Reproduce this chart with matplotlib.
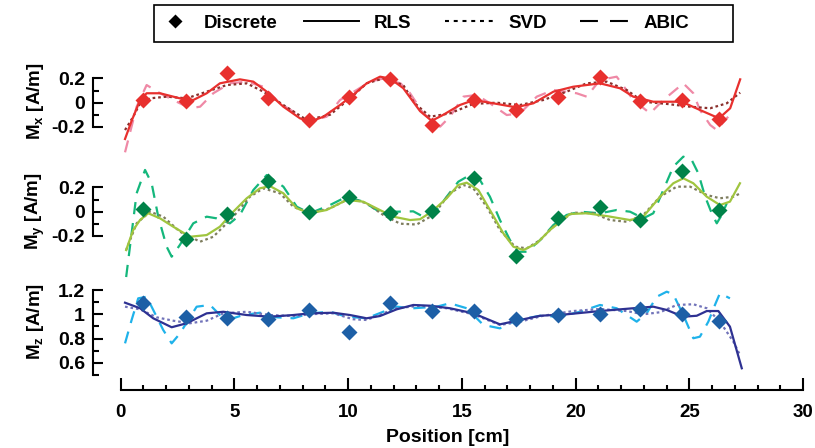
import matplotlib
matplotlib.use('Agg')
import matplotlib.pyplot as plt
from matplotlib.lines import Line2D
from matplotlib.patches import Rectangle
from matplotlib.legend_handler import HandlerLine2D
from matplotlib.ticker import FixedLocator
import matplotlib.transforms as mtransforms

# ---------------- data ----------------
x_disc = [0.97, 2.86, 4.66, 6.46, 8.29, 10.04, 11.84, 13.67, 15.53, 17.37, 19.22, 21.07, 22.83, 24.67, 26.30]
mx_disc = [0.022, 0.014, 0.243, 0.036, -0.143, 0.045, 0.196, -0.184, 0.022, -0.06, 0.05, 0.215, 0.017, 0.022, -0.137]
my_disc = [0.02, -0.228, -0.02, 0.254, -0.005, 0.119, -0.013, 0.006, 0.281, -0.366, -0.05, 0.036, -0.069, 0.339, 0.014]
mz_disc = [1.091, 0.975, 0.967, 0.959, 1.036, 0.856, 1.096, 1.027, 1.027, 0.961, 0.994, 1.0, 1.044, 1.002, 0.945]

mx_rls_x = [0.19, 0.48, 0.85, 1.14, 1.73, 2.6, 3.19, 3.78, 4.36, 5.24, 5.83, 6.42, 7.15, 7.88, 8.32, 8.91, 9.64,
            10.22, 10.81, 11.4, 11.84, 12.42, 13.16, 13.67, 14.18, 14.91, 15.53, 16.38, 17.37, 18.14, 19.02, 19.89,
            21.07, 21.95, 22.53, 23.41, 24.66, 25.46, 26.3, 26.79, 27.23]
mx_rls_y = [-0.3, -0.15, 0.02, 0.078, 0.078, 0.036, 0.022, 0.078, 0.16, 0.193, 0.174, 0.091, -0.033, -0.129, -0.157,
            -0.116, -0.019, 0.064, 0.16, 0.215, 0.2, 0.12, -0.07, -0.15, -0.10, -0.019, 0.022, -0.005, -0.038, -0.005,
            0.091, 0.132, 0.16, 0.119, 0.05, 0.008, 0.008, -0.06, -0.129, -0.046, 0.193]

mx_svd_x = [0.19, 0.55, 0.85, 1.29, 2.02, 2.9, 3.78, 4.66, 5.54, 6.27, 7.15, 8.18, 9.2, 10.08, 10.81, 11.54, 12.42,
            12.9, 13.6, 14.47, 15.5, 16.53, 17.55, 18.57, 19.6, 20.48, 21.36, 22.24, 22.97, 24.0, 25.03, 25.91,
            26.64, 27.23]
mx_svd_y = [-0.226, -0.116, -0.005, 0.036, 0.05, 0.036, 0.091, 0.146, 0.16, 0.091, -0.019, -0.143, -0.10, 0.036,
            0.16, 0.2, 0.146, 0.0, -0.116, -0.088, -0.01, 0.0, -0.019, 0.022, 0.091, 0.16, 0.174, 0.105, 0.008,
            -0.01, -0.033, -0.046, -0.005, 0.083]

mx_abic_x = [0.19, 0.7, 1.14, 1.73, 2.31, 3.05, 3.49, 4.07, 4.8, 5.54, 6.27, 7.0, 7.59, 8.18, 9.05, 9.64, 10.37,
             10.96, 11.54, 12.3, 12.72, 13.3, 14.04, 14.47, 15.06, 15.65, 16.23, 16.97, 17.55, 18.29, 19.02, 20.04,
             20.48, 21.07, 21.8, 22.02, 22.53, 23.27, 23.85, 24.73, 25.17, 25.46, 25.91, 26.2, 26.7]
mx_abic_y = [-0.41, -0.033, 0.146, 0.078, 0.022, -0.046, -0.033, 0.078, 0.16, 0.174, 0.132, -0.005, -0.074, -0.157,
             -0.116, 0.022, 0.105, 0.174, 0.2, 0.16, 0.078, -0.088, -0.198, -0.116, 0.05, 0.064, -0.005, -0.102,
             -0.088, 0.05, 0.105, 0.078, 0.05, 0.188, 0.215, 0.16, 0.022, -0.088, 0.022, 0.16, 0.078, -0.06, -0.184,
             -0.226, -0.116]

my_rls_x = [0.24, 0.55, 0.85, 1.21, 1.73, 2.31, 3.05, 3.78, 4.36, 4.95, 5.54, 6.12, 6.56, 7.15, 7.74, 8.32, 9.05,
            9.93, 10.66, 11.39, 11.98, 12.72, 13.16, 13.67, 14.33, 14.84, 15.21, 15.72, 16.23, 16.82, 17.26, 17.7,
            18.29, 18.87, 19.75, 20.48, 21.36, 22.39, 22.97, 23.71, 24.29, 24.73, 25.17, 25.76, 26.34, 26.78, 27.22]
my_rls_y = [-0.317, -0.151, -0.069, -0.013, -0.055, -0.124, -0.207, -0.193, -0.124, 0.0, 0.111, 0.193, 0.212, 0.152,
            0.028, -0.013, 0.014, 0.097, 0.083, 0.014, -0.041, -0.069, -0.062, 0.0, 0.111, 0.221, 0.24, 0.179, 0.014,
            -0.179, -0.289, -0.317, -0.261, -0.151, -0.019, -0.013, -0.036, -0.069, -0.041, 0.124, 0.235, 0.276,
            0.235, 0.124, 0.055, 0.083, 0.235]

my_svd_x = [0.24, 0.7, 1.29, 1.87, 2.6, 3.49, 4.07, 4.95, 5.68, 6.27, 7.0, 7.59, 8.32, 9.2, 10.08, 10.81, 11.54,
            12.28, 13.01, 13.74, 14.47, 15.06, 15.5, 16.09, 16.67, 17.33, 17.85, 18.44, 19.16, 19.89, 20.77, 21.51,
            22.24, 22.97, 23.71, 24.44, 25.03, 25.76, 26.34, 26.93, 27.22]
my_svd_y = [-0.317, -0.096, 0.0, -0.041, -0.165, -0.248, -0.207, -0.041, 0.124, 0.193, 0.152, 0.041, -0.013, 0.028,
            0.111, 0.069, -0.027, -0.099, -0.106, -0.027, 0.152, 0.221, 0.193, 0.041, -0.151, -0.289, -0.303, -0.234,
            -0.096, -0.008, -0.013, -0.069, -0.083, -0.027, 0.124, 0.207, 0.207, 0.138, 0.111, 0.124, 0.15]

my_abic_x = [0.24, 0.7, 1.07, 1.36, 1.65, 2.02, 2.24, 2.6, 3.19, 3.78, 4.22, 4.8, 5.24, 5.83, 6.42, 7.15, 7.74,
             8.32, 9.2, 9.93, 10.66, 11.25, 12.13, 12.86, 13.3, 13.74, 14.33, 14.84, 15.35, 15.79, 16.23, 16.67,
             17.11, 17.47, 17.85, 18.44, 19.02, 19.6, 20.19, 21.07, 21.8, 22.39, 22.97, 23.41, 23.85, 24.29, 24.73,
             25.1, 25.39, 25.69, 25.98, 26.2, 26.42, 26.64]
my_abic_y = [-0.54, 0.152, 0.345, 0.235, -0.041, -0.289, -0.372, -0.275, -0.096, -0.041, -0.055, -0.096, -0.027,
             0.179, 0.303, 0.207, 0.041, -0.013, 0.055, 0.124, 0.083, 0.014, 0.0, 0.003, -0.041, -0.027, 0.124, 0.248,
             0.303, 0.262, 0.124, -0.069, -0.234, -0.331, -0.331, -0.234, -0.11, -0.027, 0.0, -0.013, 0.014, 0.0,
             -0.055, -0.013, 0.179, 0.372, 0.455, 0.427, 0.317, 0.124, -0.013, -0.096, -0.027, 0.069]

mz_rls_x = [0.19, 0.85, 1.43, 2.24, 2.9, 3.78, 4.51, 5.54, 6.56, 7.59, 8.32, 9.35, 10.08, 10.81, 11.4, 12.13, 12.86,
            13.6, 14.47, 15.5, 16.67, 17.55, 18.44, 19.6, 21.07, 22.53, 23.41, 24.0, 24.73, 25.32, 25.76, 26.27,
            26.78, 27.3]
mz_rls_y = [1.096, 1.05, 0.967, 0.893, 0.926, 1.008, 1.021, 0.994, 0.98, 0.994, 1.008, 1.013, 0.994, 0.967, 0.986,
            1.041, 1.077, 1.071, 1.05, 1.008, 0.917, 0.953, 0.988, 1.0, 1.027, 1.05, 1.063, 1.036, 0.98, 0.988,
            1.027, 1.027, 0.898, 0.554]

mz_svd_x = [0.19, 0.85, 1.58, 2.31, 3.05, 3.78, 4.51, 5.54, 6.56, 7.59, 8.47, 9.35, 10.22, 10.81, 11.54, 12.13,
            13.16, 14.33, 15.5, 16.67, 17.55, 18.57, 19.89, 21.07, 22.24, 22.97, 23.71, 24.44, 25.17, 25.76, 26.34,
            26.93, 27.22]
mz_svd_y = [1.063, 1.041, 0.975, 0.947, 0.926, 0.947, 1.008, 1.021, 0.994, 0.986, 1.002, 1.008, 0.959, 0.953, 1.008,
            1.05, 1.071, 1.05, 1.0, 0.912, 0.939, 0.988, 1.027, 1.044, 1.027, 1.0, 1.017, 1.077, 1.083, 1.05, 0.939,
            0.774, 0.664]

mz_abic_x = [0.19, 0.48, 0.77, 1.14, 1.43, 1.87, 2.24, 2.61, 2.97, 3.34, 3.93, 4.36, 4.8, 5.39, 6.12, 6.86, 7.59,
             8.32, 9.2, 9.93, 10.81, 11.54, 12.13, 12.86, 13.89, 14.47, 15.21, 15.94, 16.67, 17.41, 18.44, 19.3,
             20.18, 21.07, 21.8, 22.24, 22.68, 23.12, 23.56, 24.0, 24.29, 24.73, 25.17, 25.46, 25.83, 26.12, 26.34,
             26.78]
mz_abic_y = [0.76, 0.953, 1.132, 1.145, 1.036, 0.87, 0.76, 0.843, 0.953, 1.063, 1.077, 0.994, 0.959, 0.994, 1.013,
             0.975, 0.967, 1.008, 1.021, 0.98, 0.967, 1.021, 1.063, 1.05, 1.063, 1.091, 1.05, 0.912, 0.884, 0.953,
             0.988, 0.98, 1.021, 1.077, 1.05, 0.994, 0.939, 1.008, 1.145, 1.187, 1.165, 0.994, 0.802, 0.815, 0.939,
             1.077, 1.174, 1.132]

legend_labels = ['Discrete', 'RLS', 'SVD', 'ABIC']
y_labels = ['M$_\\mathrm{x}$ [A/m]', 'M$_\\mathrm{y}$ [A/m]', 'M$_\\mathrm{z}$ [A/m]']
x_label = 'Position [cm]'
x_major = [0, 5, 10, 15, 20, 25, 30]
x_minor = [v for v in range(31) if v % 5]
y_major = {'x': [-0.2, 0.0, 0.2], 'y': [-0.2, 0.0, 0.2], 'z': [0.6, 0.8, 1.0, 1.2]}
y_minor = {'x': [-0.1, 0.1], 'y': [-0.1, 0.1], 'z': [0.5, 0.7, 0.9, 1.1]}
y_ticklabels = {'x': ['-0.2', '0', '0.2'], 'y': ['-0.2', '0', '0.2'], 'z': ['0.6', '0.8', '1', '1.2']}

# ---------------- style ----------------
FONT = ['Liberation Sans', 'DejaVu Sans']
plt.rcParams['font.family'] = FONT
plt.rcParams['font.weight'] = 'bold'
plt.rcParams['mathtext.fontset'] = 'custom'
plt.rcParams['mathtext.rm'] = 'Liberation Sans:bold'
plt.rcParams['mathtext.it'] = 'Liberation Sans:bold'
plt.rcParams['mathtext.bf'] = 'Liberation Sans:bold'

colors = {
    'x': dict(disc='#E8302E', rls='#E8302E', svd='#8A2F2C', abic='#EF89A6'),
    'y': dict(disc='#008248', rls='#A0C53F', svd='#7E7D5E', abic='#14B77C'),
    'z': dict(disc='#1D5FA6', rls='#2E3192', svd='#7173B9', abic='#1FB2EA'),
}
LW = 1.6
DOT = (0, (1.2, 1.3))
DASH = (0, (5.5, 4.0))
FS = 13.5
TICK_FS = 14

W, H = 815, 448
DPI = 100
fig = plt.figure(figsize=(W / DPI, H / DPI), dpi=DPI)

X_LEFT_PX, X0_PX, PX_PER_CM = 92.7, 120.7, 22.75
RIGHT_PX = X0_PX + 30 * PX_PER_CM
XLIM = ((X_LEFT_PX - X0_PX) / PX_PER_CM, 30)
PX_PER_UNIT = 121.0


def make_axes(zero_px, zero_val, lo, hi):
    top = zero_px - (hi - zero_val) * PX_PER_UNIT
    bot = zero_px + (zero_val - lo) * PX_PER_UNIT
    ax = fig.add_axes([X_LEFT_PX / W, 1 - bot / H, (RIGHT_PX - X_LEFT_PX) / W, (bot - top) / H])
    ax.set_xlim(*XLIM)
    ax.set_ylim(lo, hi)
    ax.patch.set_visible(False)
    return ax


ax_x = make_axes(102.7, 0.0, -0.45, 0.32)
ax_y = make_axes(211.7, 0.0, -0.60, 0.50)
ax_z = make_axes(314.3, 1.0, 0.374, 1.25)

panels = [
    (ax_x, 'x', mx_disc, (mx_rls_x, mx_rls_y), (mx_svd_x, mx_svd_y), (mx_abic_x, mx_abic_y), (-0.2, 0.2), 0.01),
    (ax_y, 'y', my_disc, (my_rls_x, my_rls_y), (my_svd_x, my_svd_y), (my_abic_x, my_abic_y), (-0.2, 0.2), 0.0),
    (ax_z, 'z', mz_disc, (mz_rls_x, mz_rls_y), (mz_svd_x, mz_svd_y), (mz_abic_x, mz_abic_y), (0.5, 1.2), 0.94),
]

for ax, key, disc, rls, svd, abic, bounds, label_y in panels:
    c = colors[key]
    ax.plot(abic[0], abic[1], color=c['abic'], lw=LW, linestyle=DASH, zorder=2)
    ax.plot(svd[0], svd[1], color=c['svd'], lw=LW, linestyle=DOT, zorder=3)
    ax.plot(rls[0], rls[1], color=c['rls'], lw=LW, linestyle='-', zorder=4)
    ax.plot(x_disc, disc, linestyle='none', marker='D', ms=8.0, color=c['disc'], mec='none', zorder=5)

    for s in ['top', 'right']:
        ax.spines[s].set_visible(False)
    ax.spines['left'].set_bounds(*bounds)
    ax.spines['left'].set_linewidth(1.5)
    ax.yaxis.set_major_locator(FixedLocator(y_major[key]))
    ax.yaxis.set_minor_locator(FixedLocator(y_minor[key]))
    ax.set_yticklabels(y_ticklabels[key])
    ax.tick_params(axis='y', which='major', direction='in', length=7.5, width=1.5, pad=5.5, labelsize=TICK_FS)
    ax.tick_params(axis='y', which='minor', direction='in', length=4.5, width=1.5)
    ax.set_ylabel(y_labels['xyz'.index(key)], fontsize=FS, fontweight='bold')
    ax.yaxis.set_label_coords(-0.081, label_y,
                              transform=mtransforms.blended_transform_factory(ax.transAxes, ax.transData))
    ax.yaxis.get_label().set_va('center')

for ax in (ax_x, ax_y):
    ax.spines['bottom'].set_visible(False)
    ax.tick_params(axis='x', which='both', bottom=False, labelbottom=False)

ax_z.spines['bottom'].set_bounds(0, 30)
ax_z.spines['bottom'].set_linewidth(1.5)
ax_z.xaxis.set_major_locator(FixedLocator(x_major))
ax_z.xaxis.set_minor_locator(FixedLocator(x_minor))
ax_z.tick_params(axis='x', which='major', direction='in', length=8.5, width=1.5, pad=10, labelsize=FS)
ax_z.tick_params(axis='x', which='minor', direction='in', length=3.8, width=1.5)
ax_z.set_xlabel(x_label, fontsize=14, fontweight='bold', labelpad=6)


# ---------------- legend ----------------
class ShiftedLine(HandlerLine2D):
    def __init__(self, length_px, **kw):
        super().__init__(**kw)
        self.length = length_px * 0.72

    def create_artists(self, legend, orig_handle, xdescent, ydescent, width, height, fontsize, trans):
        y = (height - ydescent) / 2
        x1 = -xdescent + width
        x0 = x1 - self.length
        line = Line2D([x0, x1], [y, y])
        self.update_prop(line, orig_handle, legend)
        line.set_marker('None')
        line.set_transform(trans)
        return [line]


h_disc = Line2D([], [], linestyle='none', marker='D', ms=7.5, color='black', mec='none')
h_rls = Line2D([], [], color='black', lw=1.4, linestyle='-')
h_svd = Line2D([], [], color='black', lw=1.5, linestyle=(0, (1.9, 2.3)))
h_abic = Line2D([], [], color='black', lw=1.5, linestyle=(0, (8.6, 5.8)))
hm = {h_rls: ShiftedLine(55), h_svd: ShiftedLine(48), h_abic: ShiftedLine(48)}

fs_px = FS * DPI / 72
leg = fig.legend([h_disc, h_rls, h_svd, h_abic], legend_labels, handler_map=hm, ncol=4,
                 loc='center left', bbox_to_anchor=(161.5 / W, 1 - 23.4 / H), bbox_transform=fig.transFigure,
                 frameon=False, borderaxespad=0, borderpad=0,
                 prop=dict(family=FONT, weight='bold', size=FS),
                 handlelength=26.8 / fs_px, handletextpad=15 / fs_px, columnspacing=55 / fs_px, numpoints=1)
fig.add_artist(Rectangle((154 / W, 1 - 41.7 / H), (733 - 154) / W, 36.7 / H, transform=fig.transFigure,
                         fill=False, edgecolor='black', linewidth=1.2))

fig.savefig('out.png', dpi=DPI)
